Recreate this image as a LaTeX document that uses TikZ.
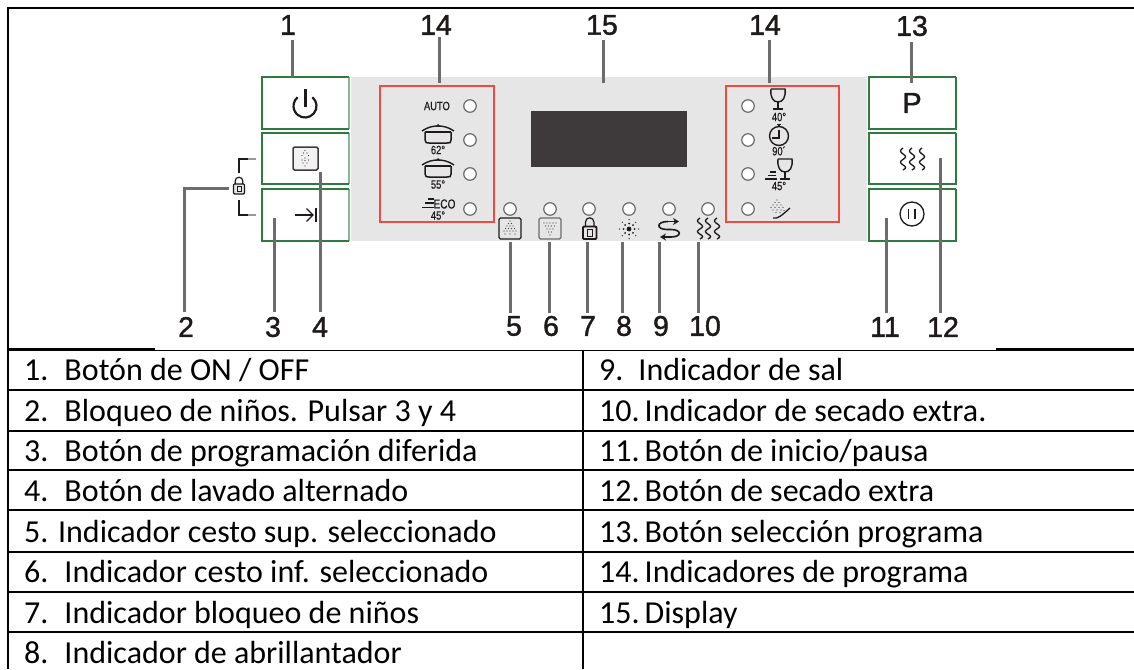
\documentclass[tikz,border=0pt]{standalone}
\usepackage{fontspec}
\setmainfont{Liberation Sans}
\newfontfamily\tabfont{Carlito}
\newfontfamily\din[FakeStretch=0.78,FakeBold=0.3]{Liberation Sans}
\newfontfamily\numfont[FakeBold=1.4]{Liberation Sans}
\usetikzlibrary{arrows.meta}
\definecolor{panelgrey}{HTML}{E6E6E6}
\definecolor{btngreen}{HTML}{2F7A3F}
\definecolor{btnlight}{HTML}{86B690}
\definecolor{redbox}{HTML}{EE4B45}
\definecolor{leader}{HTML}{6C6C6C}
\definecolor{ink}{HTML}{1E1A1A}
\definecolor{dispc}{HTML}{3E3A3B}
\tikzset{
  x=1pt,y=-1pt,
  tabline/.style={line width=2.4pt,black},
  leaderline/.style={line width=3pt,leader},
  num/.style={inner sep=0pt,text=ink,font=\numfont\fontsize{28.5}{30}\selectfont},
  led/.style={circle,draw=leader,fill=white,line width=1.2pt,minimum size=12.5pt,inner sep=0pt},
  btn/.style={draw=none,inner sep=0pt},
  icon/.style={line width=1.3pt,ink},
  tiny/.style={inner sep=0pt,text=ink,font=\din\fontsize{12}{13}\selectfont},
  rowtext/.style={inner sep=0pt,anchor=base west,font=\tabfont\fontsize{32}{36}\selectfont,text=black},
}
\newcommand\mybutton[5]{%
  \draw[line width=1.6pt,btnlight] (#3,#4) -- (#3,#5);
  \draw[line width=1.6pt,btngreen] (#3,#4) -- (#2,#4) -- (#2,#5) -- (#3,#5);
  \node[btn,minimum size=0pt] (#1) at ({(#2+#3)/2},{(#4+#5)/2}) {};
}
\newcommand\steamline[3]{% x, top, bottom
  \draw[icon] (#1,#2) .. controls ({#1-3.4},{#2+(#3-#2)*.1}) and ({#1-3.4},{#2+(#3-#2)*.17}) .. (#1,{#2+(#3-#2)*.27})
   .. controls ({#1+3.4},{#2+(#3-#2)*.37}) and ({#1+3.4},{#2+(#3-#2)*.42}) .. (#1,{#2+(#3-#2)*.52})
   .. controls ({#1-3.4},{#2+(#3-#2)*.62}) and ({#1-3.4},{#2+(#3-#2)*.67}) .. (#1,{#2+(#3-#2)*.77})
   .. controls ({#1+3.4},{#2+(#3-#2)*.86}) and ({#1+3.4},{#2+(#3-#2)*.92}) .. (#1,#3);
}
\newcommand\pot[1]{% centre x 438, rim y #1
  \draw[icon,line width=1.5pt] (425,#1) -- (425,{#1+8}) .. controls (425,{#1+11}) and (427,{#1+11}) .. (429,{#1+11}) -- (447,{#1+11}) .. controls (450,{#1+11}) and (451,{#1+11}) .. (451,{#1+8}) -- (451,#1);
  \draw[icon,line width=1.4pt] (422,{#1-1}) .. controls (428,{#1-5}) and (433,{#1-6}) .. (438,{#1-6}) .. controls (443,{#1-6}) and (448,{#1-5}) .. (454,{#1-1});
  \draw[icon,line width=1.2pt] (425,#1) -- (451,#1);
  \fill[ink] (438,{#1-6.5}) circle (1.5);
}
\newcommand\glass[3]{% left x, top y, stem end
  \draw[icon,line width=1.4pt] (#1,#2) -- ({#1+14},#2) .. controls ({#1+15},{#2+8}) and ({#1+12},{#2+13}) .. ({#1+7},{#2+13}) .. controls ({#1+2},{#2+13}) and ({#1-1},{#2+8}) .. (#1,#2);
  \draw[icon,line width=1.8pt] ({#1+7},{#2+13}) -- ({#1+7},{#2+#3});
  \draw[icon,line width=1.8pt] ({#1+2},{#2+#3}) -- ({#1+12},{#2+#3});
}
\newcommand\row[4]{\node[rowtext] (#1) at (#2,#3) {#4};}
\begin{document}
\begin{tikzpicture}
\useasboundingbox (0,0) rectangle (1134,669);
\fill[white] (0,0) rectangle (1134,669);
% table frame
\draw[line width=2.6pt,black] (8,669) -- (8,8) -- (1134,8);
\draw[tabline] (8,349.5) -- (155,349.5);
\draw[line width=1.5pt,black] (155,350.5) -- (996,350.5);
\draw[tabline] (996,349.5) -- (1134,349.5);
\foreach \yy in {390,431,470,510,552,592,632}{\draw[tabline] (8,\yy) -- (1134,\yy);}
\draw[tabline] (583,350) -- (583,669);
% panel
\fill[panelgrey] (351,77) rectangle (867,241);
\fill[dispc] (531,111) rectangle (687,167);
\draw[redbox,line width=1.1pt] (380,86) rectangle (494,222);
\draw[redbox,line width=1.1pt] (726,86) rectangle (839,222);
% buttons
\mybutton{b1}{262}{349}{77}{129}
\mybutton{b4}{262}{349}{133}{184}
\mybutton{b3}{262}{349}{189}{241}
\draw[line width=1.6pt,btngreen] (956,77) -- (869,77) -- (869,129) -- (956,129) -- (956,77);
\draw[line width=1.6pt,btngreen] (956,133) -- (869,133) -- (869,184) -- (956,184) -- (956,133);
\draw[line width=1.6pt,btngreen] (956,189) -- (869,189) -- (869,241) -- (956,241) -- (956,189);
\node[btn] (b13) at (912,103) {};
\node[btn] (b12) at (912,159) {};
\node[btn] (b11) at (912,215) {};
% LEDs
\foreach \yy [count=\i] in {106,140,174,209}{
  \node[led] (ll\i) at (470,\yy) {};
  \node[led] (lr\i) at (748,\yy) {};
}
\foreach \xx [count=\i] in {510,550,589,629,669,708}{\node[led] (lb\i) at (\xx,209) {};}
% power icon
\draw[ink,line width=2.2pt] (312.4,97.2) arc[start angle=-50,end angle=230,radius=11.5];
\draw[ink,line width=3pt] (305,89) -- (305,107);
% alt-wash icon
\draw[ink!85,line width=1.5pt,rounded corners=1.5pt,fill=white!50!panelgrey] (293,147) rectangle (318,170);
\foreach \p in {(305,150.5),(303.5,153),(307,153),(302,155.5),(308.5,155.5),(305,158),(302,160),(305,160.5),(308.5,160),(303,163),(307,163),(305,166)}{\fill[ink!85] \p circle (.7);}
% delay icon
\draw[ink,line width=1.3pt] (294.5,215) -- (313,215);
\draw[ink,line width=1.3pt] (306.5,208.5) -- (313,215) -- (306.5,221.5);
\draw[ink,line width=2pt] (316,208) -- (316,222);
% P
\node[inner sep=0pt,text=ink,font=\numfont\fontsize{29}{30}\selectfont] (pp) at (912,103) {P};
% steam in button
\foreach \xx in {903,912,922}{\steamline{\xx}{148}{170}}
% pause
\draw[ink,line width=1.3pt] (912,214) circle (12);
\draw[ink,line width=1.6pt] (908.5,209) -- (908.5,219);
\draw[ink,line width=1.6pt] (915,209) -- (915,219);
% lock bracket
\draw[ink,line width=1.6pt] (239,173) -- (239,159) -- (248,159);
\draw[leader!70,line width=1.2pt] (248,159) -- (256,159);
\draw[ink,line width=1.6pt] (239,200) -- (239,215) -- (248,215);
\draw[leader!70,line width=1.2pt] (248,215) -- (256,215);
% small lock
\draw[ink,line width=1.2pt] (235.2,184) -- (235.2,181) arc[start angle=180,end angle=360,radius=3.8] -- (242.8,184);
\draw[ink,line width=1.4pt,rounded corners=1pt,fill=panelgrey] (233.5,184) rectangle (244.5,194);
\draw[ink,line width=.8pt] (237,186.5) rectangle (241,191.5);
% left program icons
\node[tiny,anchor=east] (tauto) at (450,106) {AUTO};
\pot{132}\node[tiny] (t62) at (438,150) {62°};
\pot{166}\node[tiny] (t55) at (438,184.5) {55°};
\draw[ink,line width=1.2pt] (428,199) -- (434,199) (425,203) -- (434,203) (422,207.5) -- (434,207.5);
\node[tiny,font=\din\fontsize{13}{14}\selectfont] (teco) at (444.5,204) {ECO};
\node[tiny] (t45a) at (438,215.5) {45°};
% right program icons
\glass{771}{89}{20}
\node[tiny] (t40) at (779,117) {40°};
\draw[ink,line width=1.4pt] (779,136) circle (9.5);
\draw[ink,line width=1.3pt] (779,126.5) -- (779,124.5) (777,124.5) -- (781,124.5);
\draw[ink,line width=1.4pt] (779,130) -- (779,138) -- (772,138);
\node[tiny] (t90) at (779,151) {90´};
\glass{778}{159}{20}
\draw[ink,line width=1.8pt] (770,172) -- (776,172) (768,175.5) -- (776,175.5) (765,179) -- (777,179);
\node[tiny] (t45b) at (779,186) {45°};
\foreach \p in {(777,200),(775,202.5),(779,202.5),(773,205),(777,205),(781,205),(771,207.5),(775,207.5),(779,207.5),(783,207.5),(773,210),(777,210),(781,210),(776,212.5),(780,212.5),(784,210.5)}{\fill[ink!85] \p circle (.65);}
\draw[ink,line width=1.3pt] (773,218) .. controls (778,219) and (781,216) .. (790,208);
% bottom icons
\draw[ink,line width=1.2pt,rounded corners=1.5pt] (499,218) rectangle (521,239);
\foreach \p in {(510,221),(508.5,223.5),(511.5,223.5),(507,226),(510,226),(513,226),(505.5,228.5),(508.5,228.5),(511.5,228.5),(514.5,228.5),(504,231),(507,231),(510,231),(513,231),(516,231),(505,234),(510,234),(515,234)}{\fill[ink!85] \p circle (.6);}
\draw[leader,line width=1.2pt,rounded corners=1.5pt] (539,218) rectangle (561,239);
\foreach \p in {(544,223),(547,223),(550,223),(553,223),(556,223),(545.5,226),(548.5,226),(551.5,226),(554.5,226),(547,229),(550,229),(553,229),(548.5,232),(551.5,232),(550,235)}{\fill[ink!85] \p circle (.6);}
\draw[ink,line width=1.2pt] (585.5,227) -- (585.5,222) arc[start angle=180,end angle=360,radius=4.2] -- (593.9,227);
\draw[ink,line width=1.8pt,rounded corners=1pt] (583,226.5) rectangle (596.5,239);
\draw[ink,line width=.8pt] (587.5,229.5) rectangle (592,236);
\fill[ink] (629,229) circle (2.4);
\foreach \a in {0,45,...,315}{\fill[ink] ({629+5.5*cos(\a)},{229+5.5*sin(\a)}) circle (1);\fill[ink!85] ({629+9.5*cos(\a)},{229+9.5*sin(\a)}) circle (.75);}
\draw[ink,line width=1.6pt,-{Stealth[length=6pt,width=7pt]}] (668,221.5) .. controls (656,221.5) and (656,229.5) .. (667,229.5) -- (671,229.5) .. controls (682,229.5) and (682,237) .. (671,237) -- (660,237);
\draw[ink,line width=1.6pt,-{Stealth[length=6pt,width=7pt]}] (667,221.5) -- (679,221.5);
\foreach \xx in {700,708,717}{\steamline{\xx}{218}{239}}
% leaders
\coordinate (e1a) at (292,40);\coordinate (e1b) at (292,77);
\coordinate (e14a) at (439,37);\coordinate (e14b) at (439,83);
\coordinate (e15a) at (603,40);\coordinate (e15b) at (603,83);
\coordinate (e16a) at (769,40);\coordinate (e16b) at (769,83);
\coordinate (e13a) at (911,42);\coordinate (e13b) at (911,83);
\coordinate (e2a) at (184,312);\coordinate (e2b) at (184,188);\coordinate (e2c) at (229,188);
\coordinate (e3a) at (274,218);\coordinate (e3b) at (274,312);
\coordinate (e4a) at (320,172);\coordinate (e4b) at (320,312);
\coordinate (e11a) at (886,218);\coordinate (e11b) at (886,313);
\coordinate (e12a) at (940,158);\coordinate (e12b) at (940,313);
\foreach \xx/\n in {510/5,549/6,587/7,622/8,659/9,698/10}{
  \coordinate (e\n a) at (\xx,242);\coordinate (e\n b) at (\xx,313);
  \draw[leaderline] (e\n a) -- (e\n b);
}
\draw[leaderline] (e1a) -- (e1b);
\draw[leaderline] (e14a) -- (e14b);
\draw[leaderline] (e15a) -- (e15b);
\draw[leaderline] (e16a) -- (e16b);
\draw[leaderline] (e13a) -- (e13b);
\draw[leaderline] (e2a) -- (e2b) -- (e2c);
\draw[leaderline] (e3a) -- (e3b);
\draw[leaderline] (e4a) -- (e4b);
\draw[leaderline] (e11a) -- (e11b);
\draw[leaderline] (e12a) -- (e12b);
% numbers
\node[num] (n1) at (288,25) {1};
\node[num] (n14a) at (436,25) {14};
\node[num] (n15) at (602,25) {15};
\node[num] (n14b) at (765,25) {14};
\node[num] (n13) at (912,26) {13};
\node[num] (n2) at (186,327) {2};
\node[num] (n3) at (273,327) {3};
\node[num] (n4) at (320,327) {4};
\node[num] (n5) at (514,326) {5};
\node[num] (n6) at (551,326) {6};
\node[num] (n7) at (588,326) {7};
\node[num] (n8) at (624,326) {8};
\node[num] (n9) at (661,326) {9};
\node[num] (n10) at (705,326) {10};
\node[num] (n11) at (885,327) {11};
\node[num] (n12) at (943,327) {12};
% table text
\row{r1}{24}{380}{1.\hspace{16pt}Botón de ON / OFF}
\row{r2}{24}{421}{2.\hspace{16pt}Bloqueo de niños. Pulsar 3 y 4}
\row{r3}{24}{461}{3.\hspace{16pt}Botón de programación diferida}
\row{r4}{24}{501}{4.\hspace{16pt}Botón de lavado alternado}
\row{r5}{24}{542}{5. Indicador cesto sup. seleccionado}
\row{r6}{24}{582}{6.\hspace{16pt}Indicador cesto inf. seleccionado}
\row{r7}{24}{623}{7.\hspace{16pt}Indicador bloqueo de niños}
\row{r8}{24}{663}{8.\hspace{16pt}Indicador de abrillantador}
\row{s1}{599}{380}{9.\hspace{15pt}Indicador de sal}
\row{s2}{599}{421}{10.\hspace{5pt}Indicador de secado extra.}
\row{s3}{599}{461}{11.\hspace{5pt}Botón de inicio/pausa}
\row{s4}{599}{501}{12.\hspace{5pt}Botón de secado extra}
\row{s5}{599}{542}{13.\hspace{5pt}Botón selección programa}
\row{s6}{599}{582}{14.\hspace{5pt}Indicadores de programa}
\row{s7}{599}{623}{15.\hspace{5pt}Display}
\end{tikzpicture}
\end{document}
